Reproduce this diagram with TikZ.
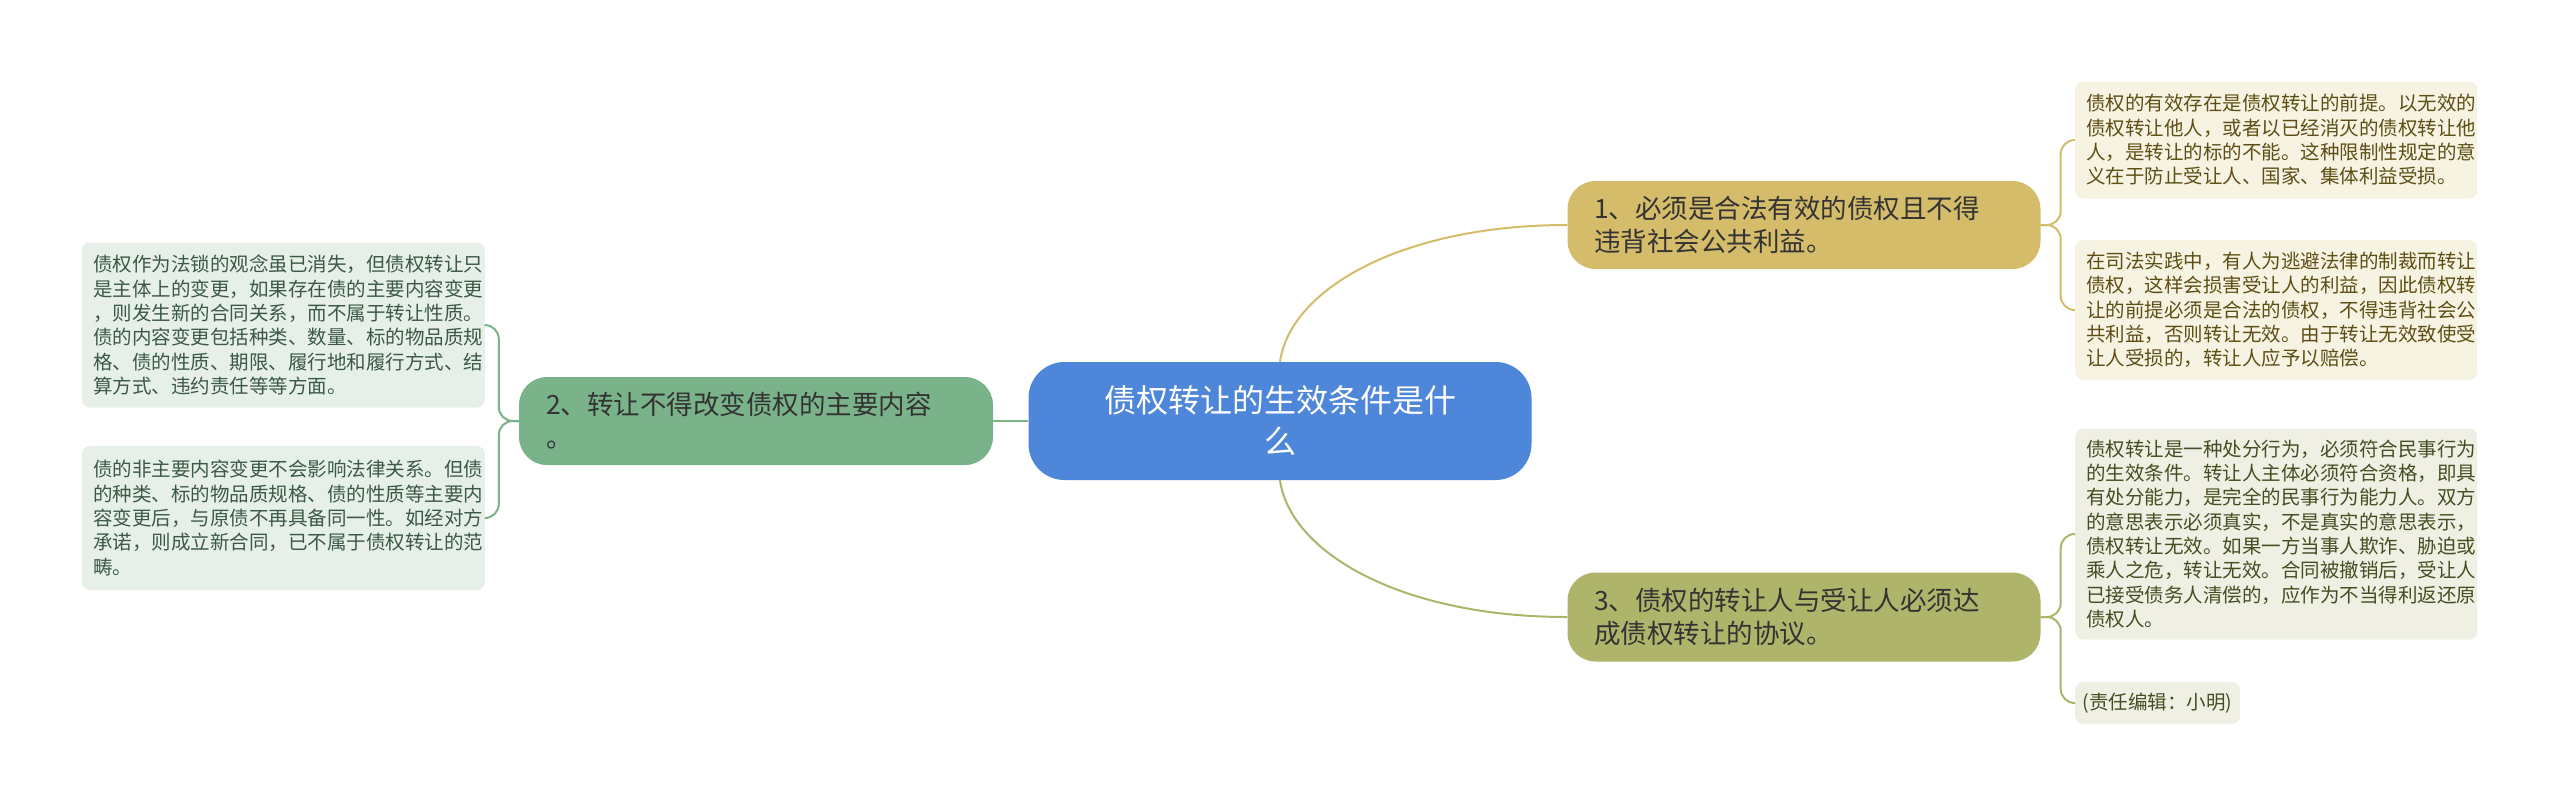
\documentclass[tikz,border=0pt]{standalone}
\usepackage{fontspec}
\setmainfont{Noto Sans CJK SC}
\begin{document}
\begin{tikzpicture}[x=1pt,y=-1pt,
  leaf/.style={rounded corners=8pt,inner sep=0pt,align=left,font=\fontsize{19.5}{24.3}\selectfont},
  br/.style={rounded corners=28pt,inner sep=0pt,align=left,font=\fontsize{26.5}{33}\selectfont,text=black!80},
  conn/.style={line width=2pt}]
\useasboundingbox[fill=white] (0,0) rectangle (2560,807);
\definecolor{cblue}{HTML}{4E86DA}
\definecolor{cgold}{HTML}{D5BC6A}
\definecolor{cgreen}{HTML}{7AB38A}
\definecolor{colive}{HTML}{AEB56B}
\definecolor{lgold}{HTML}{F6F3E3}
\definecolor{tgold}{HTML}{5E4E14}
\definecolor{lolive}{HTML}{EFF0E3}
\definecolor{tolive}{HTML}{474D22}
\definecolor{lgreen}{HTML}{E6F0E9}
\definecolor{tgreen}{HTML}{3C5945}
% main
\node[fill=cblue,rounded corners=36pt,minimum width=503pt,minimum height=118pt,inner sep=0pt,align=center,text=white,font=\fontsize{32}{41}\selectfont] (c) at (1280,421) {债权转让的生效条件是什\\么};
% branches
\node[br,fill=cgold,minimum width=473pt,minimum height=88pt] (b1) at (1804,225) {\parbox{420pt}{1、必须是合法有效的债权且不得\\违背社会公共利益。}};
\node[br,fill=cgreen,minimum width=474pt,minimum height=88pt] (b2) at (756,421) {\parbox{420pt}{2、转让不得改变债权的主要内容\\。}};
\node[br,fill=colive,minimum width=473pt,minimum height=89pt] (b3) at (1804,617) {\parbox{420pt}{3、债权的转让人与受让人必须达\\成债权转让的协议。}};
% right leaves
\node[leaf,fill=lgold,text=tgold,minimum width=402pt,minimum height=117pt,anchor=west] (r1) at (2075,140) {\parbox{380pt}{债权的有效存在是债权转让的前提。以无效的\\债权转让他人，或者以已经消灭的债权转让他\\人，是转让的标的不能。这种限制性规定的意\\义在于防止受让人、国家、集体利益受损。}};
\node[leaf,fill=lgold,text=tgold,minimum width=402pt,minimum height=140pt,anchor=west] (r2) at (2075,310) {\parbox{380pt}{在司法实践中，有人为逃避法律的制裁而转让\\债权，这样会损害受让人的利益，因此债权转\\让的前提必须是合法的债权，不得违背社会公\\共利益，否则转让无效。由于转让无效致使受\\让人受损的，转让人应予以赔偿。}};
\node[leaf,fill=lolive,text=tolive,minimum width=402pt,minimum height=211pt,anchor=west] (r3) at (2075,534) {\parbox{380pt}{债权转让是一种处分行为，必须符合民事行为\\的生效条件。转让人主体必须符合资格，即具\\有处分能力，是完全的民事行为能力人。双方\\的意思表示必须真实，不是真实的意思表示，\\债权转让无效。如果一方当事人欺诈、胁迫或\\乘人之危，转让无效。合同被撤销后，受让人\\已接受债务人清偿的，应作为不当得利返还原\\债权人。}};
\node[leaf,fill=lolive,text=tolive,minimum width=165pt,minimum height=42pt,anchor=west] (r4) at (2075,703) {(责任编辑：小明)};
% left leaves
\node[leaf,fill=lgreen,text=tgreen,minimum width=403pt,minimum height=165pt,anchor=east] (l1) at (485,325) {\parbox{380pt}{债权作为法锁的观念虽已消失，但债权转让只\\是主体上的变更，如果存在债的主要内容变更\\，则发生新的合同关系，而不属于转让性质。\\债的内容变更包括种类、数量、标的物品质规\\格、债的性质、期限、履行地和履行方式、结\\算方式、违约责任等等方面。}};
\node[leaf,fill=lgreen,text=tgreen,minimum width=403pt,minimum height=144pt,anchor=east] (l2) at (485,518) {\parbox{380pt}{债的非主要内容变更不会影响法律关系。但债\\的种类、标的物品质规格、债的性质等主要内\\容变更后，与原债不再具备同一性。如经对方\\承诺，则成立新合同，已不属于债权转让的范\\畴。}};
% connectors
\draw[conn,cgold] (c.north) .. controls (1290,290) and (1400,225) .. (b1.west);
\draw[conn,colive] (c.south) .. controls (1290,552) and (1400,617) .. (b3.west);
\draw[conn,cgreen] (c.west) -- (b2.east);
\draw[conn,cgold,rounded corners=14pt] (b1.east) -- ++(20,0) |- (r1.west);
\draw[conn,cgold,rounded corners=14pt] (b1.east) -- ++(20,0) |- (r2.west);
\draw[conn,colive,rounded corners=14pt] (b3.east) -- ++(20,0) |- (r3.west);
\draw[conn,colive,rounded corners=14pt] (b3.east) -- ++(20,0) |- (r4.west);
\draw[conn,cgreen,rounded corners=14pt] (b2.west) -- ++(-20,0) |- (l1.east);
\draw[conn,cgreen,rounded corners=14pt] (b2.west) -- ++(-20,0) |- (l2.east);
\end{tikzpicture}
\end{document}
